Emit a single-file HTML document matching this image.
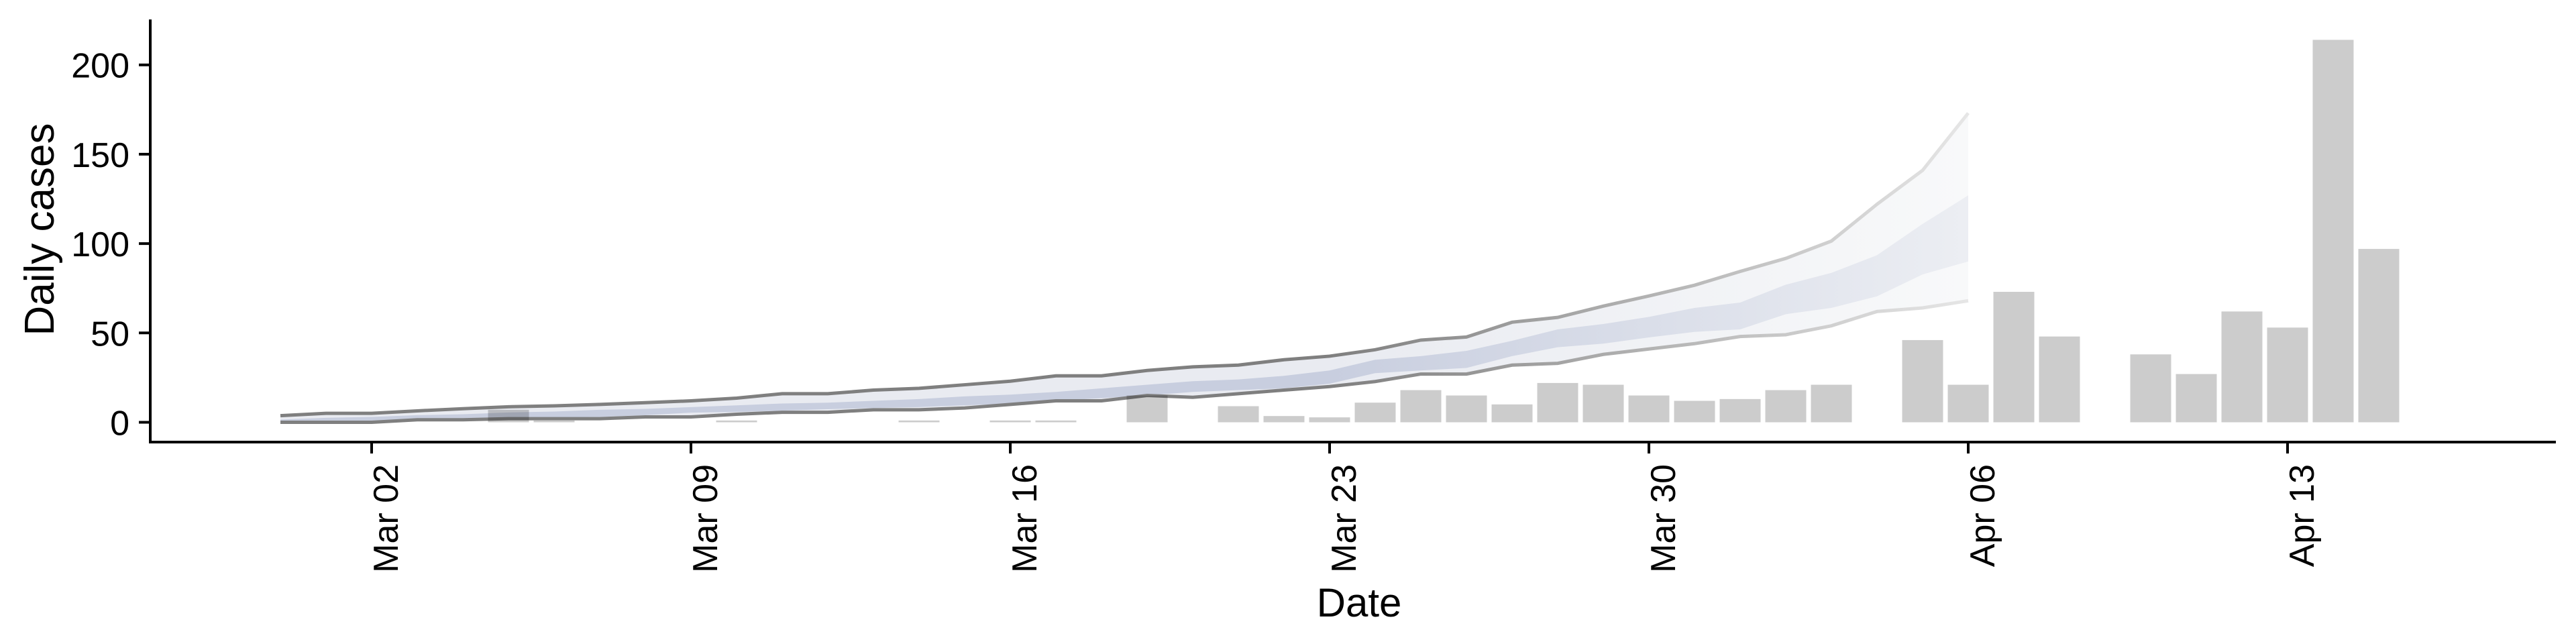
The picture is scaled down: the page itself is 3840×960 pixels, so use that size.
<!DOCTYPE html>
<html><head><meta charset="utf-8">
<style>
html,body{margin:0;padding:0;background:#fff;}
svg{display:block;font-family:"Liberation Sans",Arial,sans-serif;}
</style></head>
<body>
<svg id="chart" width="3840" height="960" viewBox="0 0 3840 960" xmlns="http://www.w3.org/2000/svg">
<defs>
<linearGradient id="fadeInner" gradientUnits="userSpaceOnUse" x1="1982" y1="0" x2="2934" y2="0">
<stop offset="0" stop-color="#c8cedf"/><stop offset="1" stop-color="#eceef3"/>
</linearGradient>
<linearGradient id="fadeOuter" gradientUnits="userSpaceOnUse" x1="1982" y1="0" x2="2934" y2="0">
<stop offset="0" stop-color="#e9ebf1"/><stop offset="1" stop-color="#f8f9fa"/>
</linearGradient>
<linearGradient id="fadeLine" gradientUnits="userSpaceOnUse" x1="1982" y1="0" x2="2934" y2="0">
<stop offset="0" stop-color="#7f7f7f"/><stop offset="1" stop-color="#e6e6e6"/>
</linearGradient>
</defs>
<g id="bars"></g>
<g id="bands" style="mix-blend-mode:multiply"></g>
<g id="axes"></g>
</svg>
<script>
const barDays = [3,4,8,12,14,15,17,19,20,21,22,23,24,25,26,27,28,29,30,31,32,34,35,36,37,39,40,41,42,43,44];
const barValues = [7,1,1,1,1,1,15,9,3.5,2.75,11,18,15,10,22,21,15,12,13,18,21,46,21,73,48,38,27,62,53,214,97];
const bandStartDay = -2;
const outerUpper = [3.7,5,5,6.4,7.6,8.7,9.2,10,11,12,13.5,16,16,18,19,21,23,26,26,29,31,32,35,37,40.6,46,47.7,56,58.7,65,70.7,76.7,84.4,91.7,101.4,122,141,173];
const outerLower = [0,0,0,1.4,1.4,2,2,2,3,3,4.5,5.6,5.6,7,7,8,10,12,12,15,14,16,18,20,22.8,27,27,32,33,38,41,44,48,49,54,62,64,68];
const innerUpper = [1.5,2.5,3,4,4.5,5.5,6,7,7.5,8.5,9.5,10.5,11,12,13,14.5,15.5,17,19,21,23,24,26,29,35,37,40,45.6,52,55,59,64,67,77,83.6,93.5,111,127];
const innerLower = [0.3,0.5,0.8,1,1.5,2,2.5,3,4,5.4,5.8,6.5,7.3,8,8.5,9.5,10.4,12,13.5,15,17,18,19,21.6,27.5,29,30.4,37,42,44,47.5,50.6,52,60.5,64,70.5,82.7,90];
const yTicks = [0,50,100,150,200];
const xTickDays = [0,7,14,21,28,35,42];
const xTickLabels = ["Mar 02","Mar 09","Mar 16","Mar 23","Mar 30","Apr 06","Apr 13"];

const NS="http://www.w3.org/2000/svg";
const x = d => 554 + 68*d;
const y = v => 629.5 - 2.664*v;
function mk(tag, attrs, parent){const e=document.createElementNS(NS,tag);for(const k in attrs)e.setAttribute(k,attrs[k]);parent.appendChild(e);return e;}

const gb=document.getElementById('bars');
barDays.forEach((d,i)=>{
  const r=mk('rect',{x:x(d)-30.5,y:y(barValues[i]),width:61,height:y(0)-y(barValues[i]),fill:'#cccccc'},gb);
  
  
});

const gband=document.getElementById('bands');
function poly(up,lo){
  let p=up.map((v,i)=>x(bandStartDay+i)+','+y(v));
  for(let i=lo.length-1;i>=0;i--)p.push(x(bandStartDay+i)+','+y(lo[i]));
  return p.join(' ');
}
function line(arr){return arr.map((v,i)=>x(bandStartDay+i)+','+y(v)).join(' ');}
const ob=mk('polygon',{points:poly(outerUpper,outerLower),fill:'url(#fadeOuter)'},gband);


const ib=mk('polygon',{points:poly(innerUpper,innerLower),fill:'url(#fadeInner)'},gband);


const lu=mk('polyline',{points:line(outerUpper),fill:'none',stroke:'url(#fadeLine)','stroke-width':5},gband);


const ll=mk('polyline',{points:line(outerLower),fill:'none',stroke:'url(#fadeLine)','stroke-width':5},gband);



const ga=document.getElementById('axes');
const ya=mk('line',{x1:224,y1:29,x2:224,y2:661,stroke:'#000','stroke-width':4},ga);


const xa=mk('line',{x1:222,y1:659,x2:3810,y2:659,stroke:'#000','stroke-width':4},ga);


yTicks.forEach(v=>{
  const t=mk('line',{x1:207,y1:y(v),x2:224,y2:y(v),stroke:'#000','stroke-width':4},ga);
  
  
  const l=mk('text',{x:193,y:y(v)+19,'text-anchor':'end','font-size':52,fill:'#000'},ga);
  l.textContent=v;
  
  
});
xTickDays.forEach((d,i)=>{
  const t=mk('line',{x1:x(d),y1:659,x2:x(d),y2:676,stroke:'#000','stroke-width':4},ga);
  
  
  const tx=x(d)+39, ty=692;
  const l=mk('text',{x:tx,y:ty,'text-anchor':'end','font-size':52,fill:'#000',transform:'rotate(-90 '+tx+' '+ty+')'},ga);
  l.textContent=xTickLabels[i];
  
  
});
const yt=mk('text',{x:80,y:342,'text-anchor':'middle','font-size':62,fill:'#000',transform:'rotate(-90 80 342)'},ga);
yt.textContent='Daily cases';


const xt=mk('text',{x:2026,y:919,'text-anchor':'middle','font-size':60,fill:'#000'},ga);
xt.textContent='Date';


</script>
</body></html>
